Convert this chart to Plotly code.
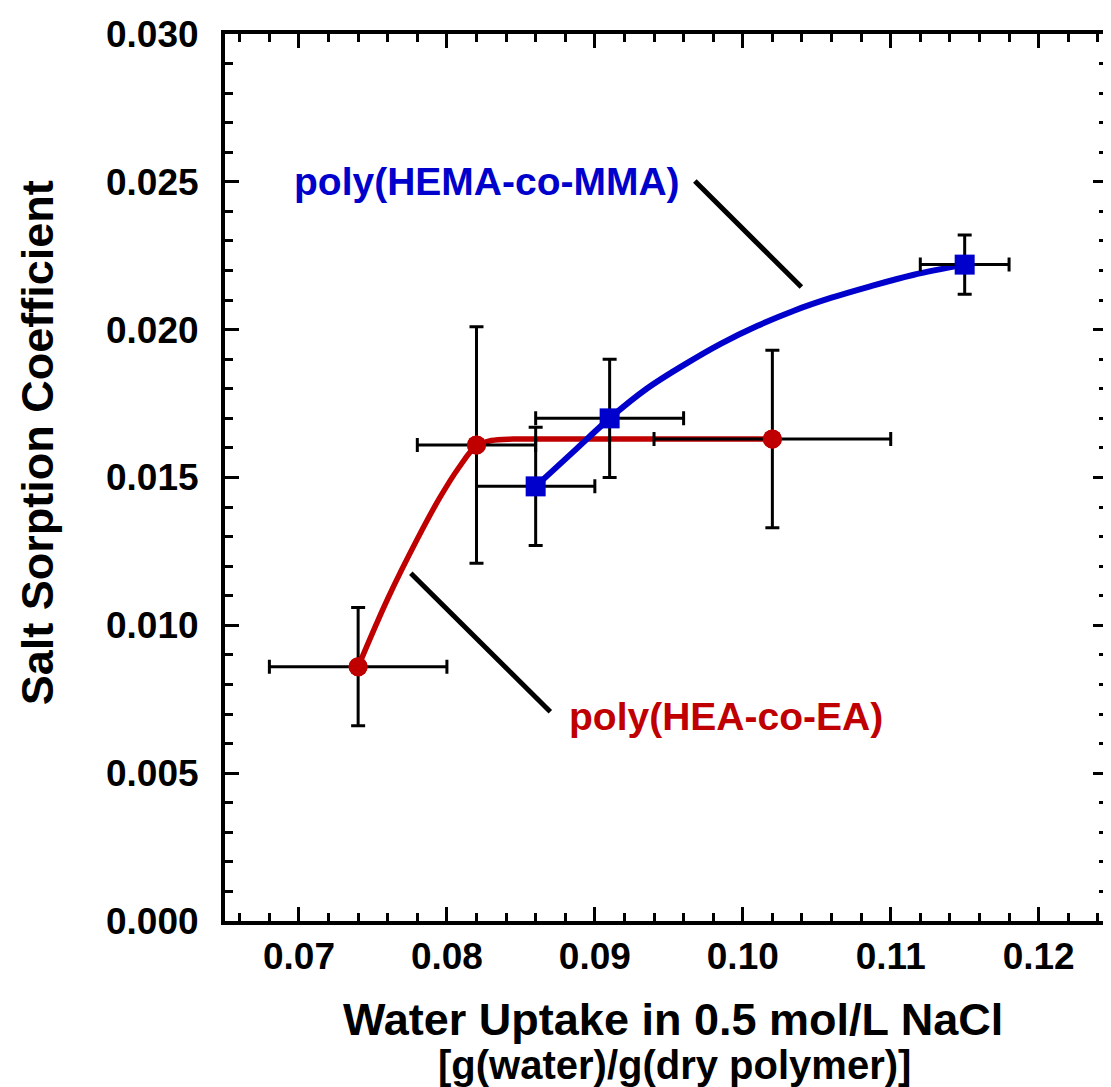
import plotly.graph_objects as go

# ---- data ----
# poly(HEA-co-EA) measured points
hea_x = [0.074, 0.082, 0.102]
hea_y = [0.0086, 0.0161, 0.0163]
hea_xerr = [0.006, 0.004, 0.008]
hea_yerr = [0.002, 0.004, 0.003]

# poly(HEMA-co-MMA) measured points
hema_x = [0.086, 0.091, 0.115]
hema_y = [0.0147, 0.0170, 0.0222]
hema_xerr = [0.004, 0.005, 0.003]
hema_yerr = [0.002, 0.002, 0.001]

# fitted guide curves
hea_fit_x = [0.0740, 0.0760, 0.0780, 0.0795, 0.0808, 0.0820, 0.0830, 0.0845, 0.0870, 0.1020]
hea_fit_y = [0.0086, 0.01090, 0.01292, 0.01430, 0.01533, 0.01607, 0.01625, 0.01630, 0.0163, 0.0163]

hema_fit_x = [0.0860, 0.0885, 0.0910, 0.0935, 0.0960, 0.0985, 0.1010, 0.1035, 0.1060, 0.1085, 0.1115, 0.1150]
hema_fit_y = [0.0147, 0.01585, 0.0170, 0.0180, 0.0188, 0.01952, 0.02013, 0.02065, 0.02108, 0.02145, 0.02185, 0.0222]

# label leader lines (data coordinates)
hema_leader_x = [0.09676, 0.10396]
hema_leader_y = [0.02503, 0.02144]
hea_leader_x = [0.07756, 0.08699]
hea_leader_y = [0.01176, 0.00708]

hema_label = "poly(HEMA-co-MMA)"
hema_label_pos = (0.0827, 0.0250)
hea_label = "poly(HEA-co-EA)"
hea_label_pos = (0.09885, 0.00691)

x_range = [0.065, 0.12462]
y_range = [0.0, 0.030]

RED = "#C00000"
BLUE = "#0000CC"
FONT = "Liberation Sans, Arial, sans-serif"

fig = go.Figure()

# leader lines
fig.add_trace(go.Scatter(x=hema_leader_x, y=hema_leader_y, mode="lines",
                         line=dict(color="black", width=5), hoverinfo="skip", showlegend=False))
fig.add_trace(go.Scatter(x=hea_leader_x, y=hea_leader_y, mode="lines",
                         line=dict(color="black", width=5), hoverinfo="skip", showlegend=False))

# fit curves
fig.add_trace(go.Scatter(x=hea_fit_x, y=hea_fit_y, mode="lines",
                         line=dict(color=RED, width=5.5, shape="spline", smoothing=1.0),
                         hoverinfo="skip", showlegend=False))

# measured points with error bars
fig.add_trace(go.Scatter(x=hea_x, y=hea_y, mode="markers",
                         marker=dict(symbol="circle", size=19, color=RED),
                         error_x=dict(type="data", array=hea_xerr, color="black", thickness=3, width=7),
                         error_y=dict(type="data", array=hea_yerr, color="black", thickness=3, width=7),
                         showlegend=False))
fig.add_trace(go.Scatter(x=hema_fit_x, y=hema_fit_y, mode="lines",
                         line=dict(color=BLUE, width=6, shape="spline", smoothing=1.0),
                         hoverinfo="skip", showlegend=False))
fig.add_trace(go.Scatter(x=hema_x, y=hema_y, mode="markers",
                         marker=dict(symbol="square", size=20, color=BLUE),
                         error_x=dict(type="data", array=hema_xerr, color="black", thickness=3, width=7),
                         error_y=dict(type="data", array=hema_yerr, color="black", thickness=3, width=7),
                         showlegend=False))

# re-draw red markers on top
fig.add_trace(go.Scatter(x=hea_x, y=hea_y, mode="markers",
                         marker=dict(symbol="circle", size=19, color=RED),
                         hoverinfo="skip", showlegend=False))

fig.add_annotation(x=hema_label_pos[0], y=hema_label_pos[1], text=hema_label, showarrow=False,
                   xanchor="center", yanchor="middle",
                   font=dict(family=FONT, size=39, color=BLUE, weight="bold"))
fig.add_annotation(x=hea_label_pos[0], y=hea_label_pos[1], text=hea_label, showarrow=False,
                   xanchor="center", yanchor="middle",
                   font=dict(family=FONT, size=39, color=RED, weight="bold"))

# axis titles
fig.add_annotation(xref="paper", yref="paper", x=-0.2122, y=0.5395, text="Salt Sorption Coefficient",
                   textangle=-90, showarrow=False, xanchor="center", yanchor="middle",
                   font=dict(family=FONT, size=45, color="black", weight="bold"))
fig.add_annotation(xref="paper", yref="paper", x=0.508, y=-0.1116, text="Water Uptake in 0.5 mol/L NaCl",
                   showarrow=False, xanchor="center", yanchor="middle",
                   font=dict(family=FONT, size=45, color="black", weight="bold"))
fig.add_annotation(xref="paper", yref="paper", x=0.510, y=-0.162, text="[g(water)/g(dry polymer)]",
                   showarrow=False, xanchor="center", yanchor="middle",
                   font=dict(family=FONT, size=40, color="black", weight="bold"))

axis_common = dict(showline=True, linecolor="black", linewidth=4, mirror="ticks",
                   ticks="inside", ticklen=14, tickwidth=3, tickcolor="black",
                   showgrid=False, zeroline=False,
                   tickfont=dict(family=FONT, size=37, color="black", weight="bold"))

fig.update_xaxes(range=x_range, dtick=0.01, tick0=0, tickformat=".2f",
                 minor=dict(dtick=0.002, tick0=0, ticks="inside", ticklen=8, tickwidth=3, tickcolor="black"),
                 ticklabelstandoff=0, **axis_common)
fig.update_yaxes(range=y_range, dtick=0.005, tick0=0, tickformat=".3f",
                 minor=dict(dtick=0.001, tick0=0, ticks="inside", ticklen=8, tickwidth=3, tickcolor="black"),
                 ticklabelstandoff=15, **axis_common)

# page body adds an 8px margin, so the figure is 8px smaller than the window
fig.update_layout(width=1103, height=1079, margin=dict(l=217, r=0, t=26, b=166),
                  plot_bgcolor="white", paper_bgcolor="white", showlegend=False)

fig.write_html("out.html")
